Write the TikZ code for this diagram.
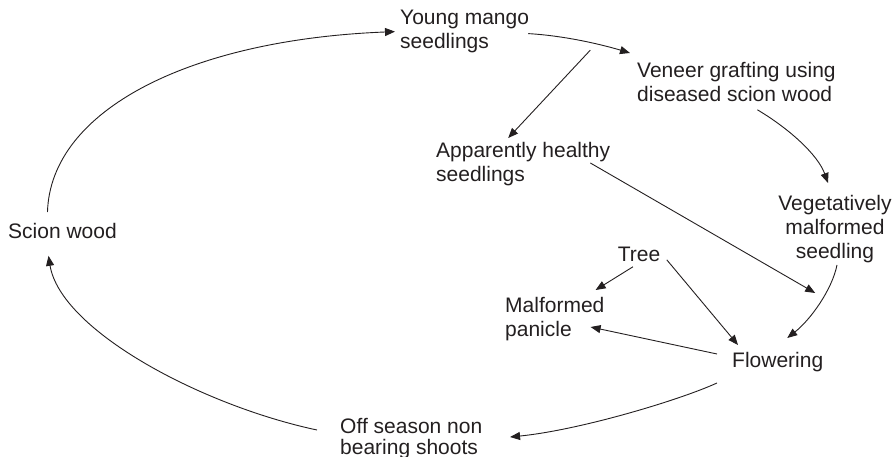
\documentclass[tikz,border=0pt]{standalone}
\usepackage{fontspec}
\setmainfont{Liberation Sans}
\usetikzlibrary{arrows.meta,calc}
\definecolor{ink}{HTML}{231F20}
\tikzset{
  lbl/.style={inner sep=0pt, text=ink, font=\fontsize{21}{24}\selectfont},
  conn/.style={draw=ink, line width=0.9pt, -{Triangle[length=10pt,width=8pt]}}
}
\begin{document}
\begin{tikzpicture}[x=1pt,y=-1pt]
\useasboundingbox (0,0) rectangle (895,456);
% nodes
\node[lbl, anchor=north west, align=left] (young) at (400,10) {Young mango\\seedlings};
\node[lbl, anchor=north west, align=left] (veneer) at (637,62) {Veneer grafting using\\diseased scion wood};
\node[lbl, anchor=north west, align=left] (healthy) at (436,142) {Apparently healthy\\seedlings};
\node[lbl, anchor=north, align=center] (veg) at (835,195) {Vegetatively\\malformed\\seedling};
\node[lbl, anchor=north] (tree) at (639,247) {Tree};
\node[lbl, anchor=north west, align=left] (panicle) at (505,297) {Malformed\\panicle};
\node[lbl, anchor=north west] (flow) at (732,352) {Flowering};
\node[lbl, anchor=north west, align=left, font=\fontsize{21}{21}\selectfont] (offs) at (340,418) {Off season non\\bearing shoots};
\node[lbl, anchor=north west] (scion) at (8,223) {Scion wood};
\coordinate (branch) at ($(young.south east)+(61,-3)$);
% connectors
\draw[conn] ($(scion.north)+(-15,-11)$) .. controls +(3,-102) and +(-205,8) .. ($(young.west)+(-5,0)$);
\draw[conn] ($(young.east)+(-1,2)$) .. controls +(35,2) and +(-30,-9) .. ($(veneer.north west)+(-7,-9)$);
\draw[conn] (branch) -- ($(healthy.north)+(-15,-4)$);
\draw[conn] ($(veneer.south)+(21,8)$) .. controls +(32,19) and +(-10,-28) .. ($(veg.north)+(-7,-12)$);
\draw[conn] ($(healthy.east)+(-20,-1)$) -- ($(flow.north)+(37.5,-59)$);
\draw[conn] ($(veg.south)+(2,2)$) .. controls +(-5,25) and +(23,-18) .. ($(flow.north)+(9.5,-14)$);
\draw[conn] ($(tree.south)+(-6,4.7)$) -- ($(panicle.north east)+(-9,-7)$);
\draw[conn] ($(tree.east)+(6.4,5.3)$) -- ($(flow.north west)+(6,-7)$);
\draw[conn] ($(flow.west)+(-15,-8)$) -- ($(panicle.east)+(-14,8)$);
\draw[conn] ($(flow.south west)+(-15,11)$) .. controls +(-37,17) and +(70,-7) .. ($(offs.north east)+(27.6,19)$);
\draw[conn] ($(offs.north west)+(-23,12)$) .. controls +(-117,-25) and +(12,74) .. ($(scion.south)+(-14,17)$);
\end{tikzpicture}
\end{document}
